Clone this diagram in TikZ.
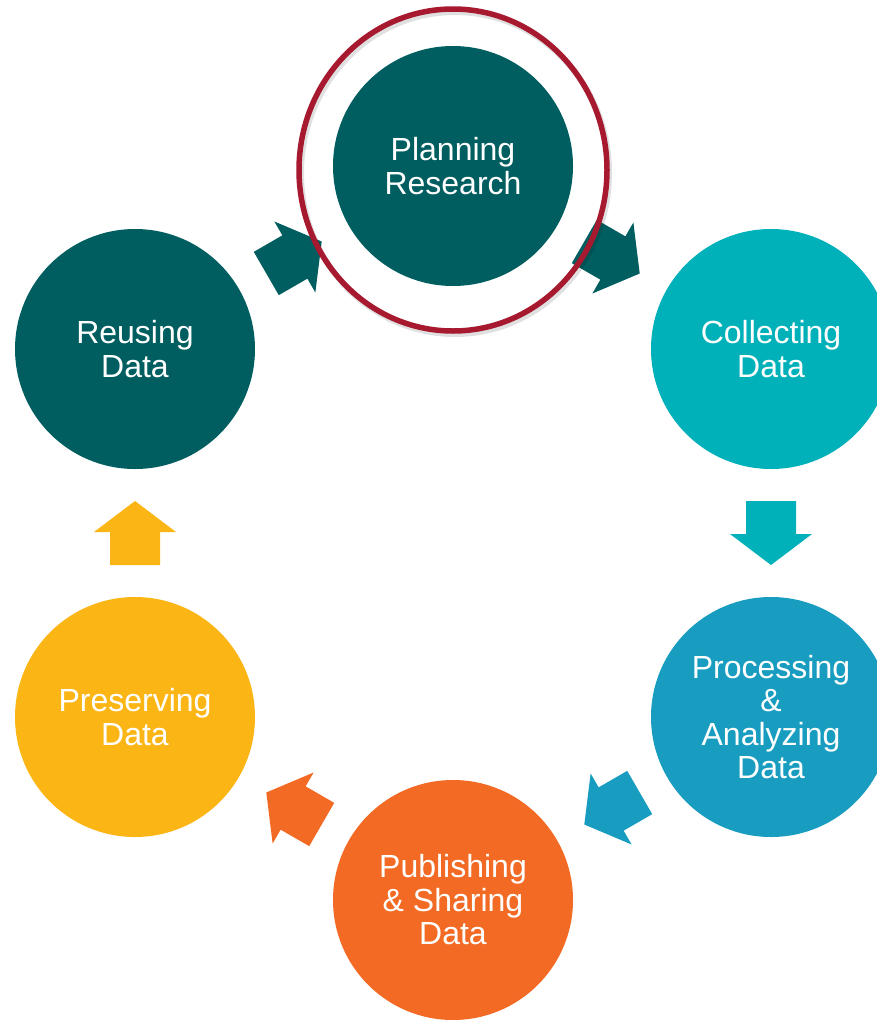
\documentclass[tikz,border=0pt]{standalone}
\usepackage{fontspec}
\setmainfont{Liberation Sans}
\usetikzlibrary{calc,shapes.geometric}
\definecolor{darkteal}{HTML}{005E60}
\definecolor{cyanc}{HTML}{00B1B9}
\definecolor{bluec}{HTML}{189DC0}
\definecolor{orangec}{HTML}{F26A23}
\definecolor{yellowc}{HTML}{FBB616}
\definecolor{ringred}{HTML}{A6192E}
\begin{document}
\begin{tikzpicture}[x=1pt,y=-1pt,
  stage/.style={circle, minimum size=240pt, inner sep=0pt, text=white, align=center,
    font=\fontsize{32}{33.5}\selectfont},
  blockarrow/.pic={\fill[#1] (-32,25) -- (1,25) -- (1,41) -- (32,0) -- (1,-41) -- (1,-25) -- (-32,-25) -- cycle;},
  ringstyle/.style={ellipse, draw=ringred, line width=5.5pt, inner sep=0pt,
    minimum width=308pt, minimum height=322pt},
  ringshadow/.style={ellipse, draw=black, opacity=0.12, line width=6pt, inner sep=0pt,
    minimum width=308pt, minimum height=322pt}]
\useasboundingbox (0,0) rectangle (877,1020);
\clip (0,0) rectangle (877,1020);
\fill[white] (0,0) rectangle (877,1020);
% stages
\node[stage, fill=darkteal] (plan) at (453,166) {Planning\\Research};
\node[stage, fill=cyanc] (collect) at (771,349) {Collecting\\Data};
\node[stage, fill=bluec] (process) at (771,717) {Processing\\\&\\Analyzing\\Data};
\node[stage, fill=orangec] (publish) at (453,900) {Publishing\\\& Sharing\\Data};
\node[stage, fill=yellowc] (preserve) at (135,717) {Preserving\\Data};
\node[stage, fill=darkteal] (reuse) at (135,349) {Reusing\\Data};
% block arrows
\pic[rotate=30] at ($(reuse)!0.5!(plan)$) {blockarrow=darkteal};
\pic[rotate=-30] at ($(plan)!0.5!(collect)$) {blockarrow=darkteal};
\pic[rotate=-90] at ($(collect)!0.5!(process)$) {blockarrow=cyanc};
\pic[rotate=-150] at ($(process)!0.5!(publish)$) {blockarrow=bluec};
\pic[rotate=150] at ($(publish)!0.5!(preserve)$) {blockarrow=orangec};
\pic[rotate=90] at ($(preserve)!0.5!(reuse)$) {blockarrow=yellowc};
% highlight ring
\node[ringshadow] (ringsh) at ($(plan)+(2,7)$) {};
\node[ringstyle] (ring) at ($(plan)+(0,4)$) {};
\end{tikzpicture}
\end{document}
